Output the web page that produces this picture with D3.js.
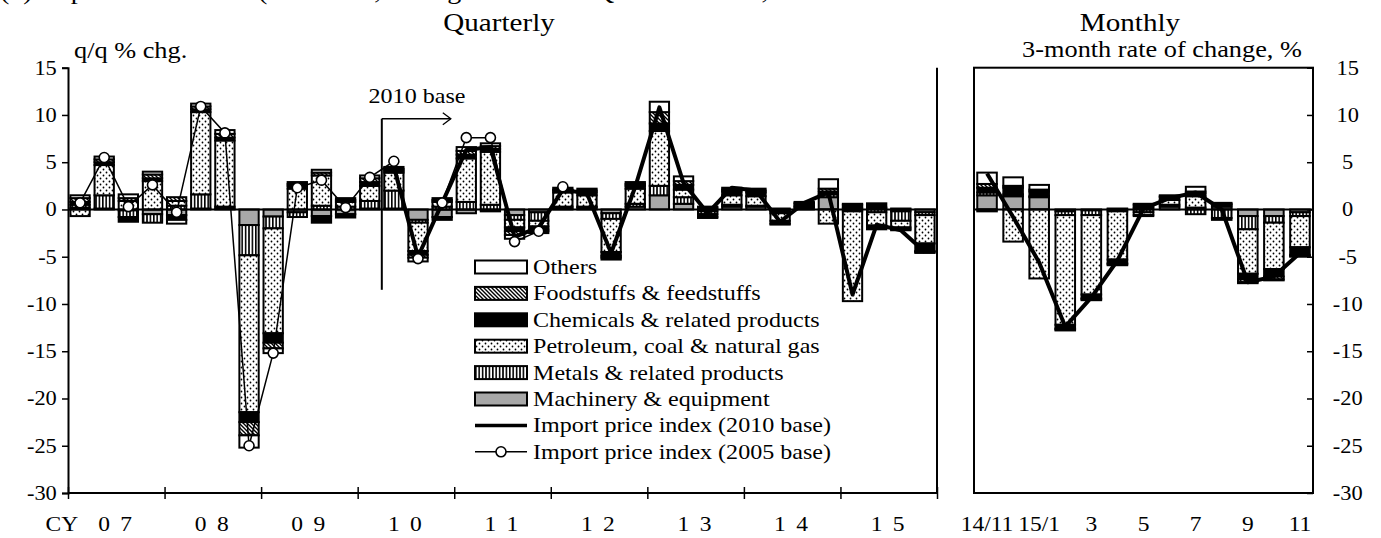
<!DOCTYPE html>
<html><head><meta charset="utf-8">
<script src="https://cdn.jsdelivr.net/npm/d3@7"></script>
<style>html,body{margin:0;padding:0;background:#fff;} svg{display:block;}</style>
</head><body>
<script>
// ---------- DATA ----------
const quarters = ["07Q1","07Q2","07Q3","07Q4","08Q1","08Q2","08Q3","08Q4","09Q1","09Q2","09Q3","09Q4",
  "10Q1","10Q2","10Q3","10Q4","11Q1","11Q2","11Q3","11Q4","12Q1","12Q2","12Q3","12Q4",
  "13Q1","13Q2","13Q3","13Q4","14Q1","14Q2","14Q3","14Q4","15Q1","15Q2","15Q3","15Q4"];
const yearLabels = ["0 7","0 8","0 9","1 0","1 1","1 2","1 3","1 4","1 5"];
const months = ["14/11","14/12","15/1","15/2","15/3","15/4","15/5","15/6","15/7","15/8","15/9","15/10","15/11"];
const monthLabels = ["14/11","","15/1","","3","","5","","7","","9","","11"];
const yTicks = [15,10,5,0,-5,-10,-15,-20,-25,-30];

// Quarterly contributions (q/q % chg.)
const machQ   = [0.2,0.1,-0.1,-0.5,-0.6,0.1,0.1,-1.65,-0.75,-0.3,-0.7,-0.5,0.1,0.1,-1.1,-0.8,-0.4,-0.2,-0.6,-0.3,0.1,0.2,-0.4,0.3,1.5,0.6,-0.2,0.3,0.3,-0.2,0.2,1.3,0.2,0.2,-0.2,-0.3];
const metalsQ = [0.3,1.4,-0.7,-0.9,0.4,1.5,0.2,-3.2,-1.25,-0.5,0.4,0.3,0.8,1.9,-0.3,0.3,0.8,0.5,-0.5,-0.9,0.2,0.1,-0.6,0.3,1.0,0.7,-0.3,0.2,0.1,-0.2,0.1,0.3,-0.2,-0.3,-1.0,-0.3];
const petroQ  = [-0.7,3.2,0.9,3.0,0.5,8.7,7.0,-16.6,-11.1,2.2,3.2,0.5,1.6,1.9,-3.0,0.5,4.6,5.6,-0.8,-0.6,1.5,1.2,-3.5,1.6,5.8,0.8,0.2,1.0,1.0,-0.8,0.1,-1.5,-9.5,-1.4,-0.7,-3.0];
const chemQ   = [0.3,0.3,-0.5,0.3,-0.5,0.3,0.3,-1.05,-1.0,0.3,-0.7,-0.35,0.4,0.2,-0.4,-0.3,0.4,0.3,-0.4,-0.3,0.2,0.3,-0.4,0.3,0.8,0.5,-0.3,0.4,0.4,-0.3,0.2,0.3,0.3,0.45,-0.2,-0.8];
const foodQ   = [0.4,0.3,0.3,0.4,0.4,0.3,0.4,-1.4,-0.6,0.2,0.3,0.2,0.4,0.2,-0.3,0.2,0.4,0.3,-0.4,-0.2,0.1,0.2,-0.2,0.2,1.2,0.4,0.1,0.2,0.2,-0.1,0.1,0.3,0.1,-0.2,-0.1,-0.1];
const othersQ = [0.3,0.3,0.4,0.3,-0.4,0.3,0.4,-1.3,-0.5,0.2,0.3,0.2,0.3,0.2,-0.4,0.2,0.4,0.3,-0.4,-0.2,0.2,0.2,-0.2,0.2,1.1,0.5,-0.1,0.2,0.2,0.1,0.1,1.0,0.0,-0.2,0.1,-0.1];
const import2005Q = [0.7,5.5,0.3,2.6,-0.3,10.9,8.1,-25.0,-15.2,2.3,3.1,0.2,3.4,5.1,-5.2,0.7,7.6,7.6,-3.4,-2.3,2.4,
  null,null,null,null,null,null,null,null,null,null,null,null,null,null,null];
const import2010Q = [null,null,null,null,null,null,null,null,null,null,null,null,null,
  4.5,-5.0,0.7,6.3,6.6,-2.9,-1.9,2.1,1.7,-4.6,2.4,10.8,2.8,-0.4,2.3,2.0,-1.3,0.7,1.8,-9.0,-1.6,-2.2,-4.5];

// Monthly contributions (3-month rate of change, %)
const machM   = [1.5,1.4,1.3,-0.2,-0.1,0.1,0.2,0.3,0.2,0.3,-0.7,-0.7,-0.3];
const metalsM = [0.3,0.2,0.1,-0.4,-0.5,-0.2,-0.3,0.2,-0.5,-0.9,-1.4,-0.7,-0.4];
const petroM  = [-0.2,-3.4,-7.3,-11.6,-8.4,-5.1,-0.3,0.5,1.2,-0.2,-4.7,-4.9,-3.3];
const chemM   = [0.5,0.7,0.5,-0.4,-0.4,-0.4,0.3,0.3,0.3,0.2,-0.6,-0.8,-0.8];
const foodM   = [0.4,0.2,0.2,-0.1,-0.1,-0.1,0.1,0.1,0.2,0.1,-0.3,-0.3,-0.1];
const othersM = [1.2,0.9,0.5,-0.1,-0.1,-0.1,-0.1,0.1,0.5,0.1,-0.1,-0.1,-0.1];
const import2010M = [3.8,-0.8,-5.6,-12.4,-9.3,-5.4,0.1,1.2,1.8,0.0,-7.7,-7.1,-4.6];

const keys = ["mach","metals","petro","chem","food","others"];
const legendItems = [
  {key:"others", label:"Others"},
  {key:"food", label:"Foodstuffs & feedstuffs"},
  {key:"chem", label:"Chemicals & related products"},
  {key:"petro", label:"Petroleum, coal & natural gas"},
  {key:"metals", label:"Metals & related products"},
  {key:"mach", label:"Machinery & equipment"},
  {key:"l2010", label:"Import price index (2010 base)"},
  {key:"l2005", label:"Import price index (2005 base)"}
];

// ---------- SETUP ----------
const W = 1381, H = 538;
const FONT = "'Liberation Serif','Times New Roman',serif";
const SX = 1.12;
const svg = d3.select("body").append("svg").attr("width", W).attr("height", H)
  .style("font-family", FONT);

const defs = svg.append("defs");
const pd = defs.append("pattern").attr("id","pDots").attr("patternUnits","userSpaceOnUse").attr("width",6).attr("height",6);
pd.append("rect").attr("width",6).attr("height",6).attr("fill","#fff");
pd.append("circle").attr("cx",1.5).attr("cy",1.5).attr("r",0.9).attr("fill","#000");
pd.append("circle").attr("cx",4.5).attr("cy",4.5).attr("r",0.9).attr("fill","#000");
const ps = defs.append("pattern").attr("id","pStripes").attr("patternUnits","userSpaceOnUse").attr("width",3.4).attr("height",4);
ps.append("rect").attr("width",3.4).attr("height",4).attr("fill","#fff");
ps.append("rect").attr("width",1.6).attr("height",4).attr("fill","#000");
const ph = defs.append("pattern").attr("id","pHatch").attr("patternUnits","userSpaceOnUse").attr("width",4).attr("height",4);
ph.append("rect").attr("width",4).attr("height",4).attr("fill","#fff");
ph.append("path").attr("d","M-1,-1 L5,5 M-1,3 L1,5 M3,-1 L5,1").attr("stroke","#000").attr("stroke-width",1.4);

const fills = {mach:"#a8a8a8", metals:"url(#pStripes)", petro:"url(#pDots)", chem:"#000", food:"url(#pHatch)", others:"#fff"};

const y = d3.scaleLinear().domain([-30,15]).range([493,67.7]);
const xq = d3.scaleBand().domain(quarters).range([68,937]).paddingInner(0.2).paddingOuter(0.1);
const xm = d3.scaleBand().domain(months).range([974,1313]).paddingInner(0.25).paddingOuter(0.125);

function txt(g, x, yy, s, size, anchor) {
  return g.append("text").attr("transform", `translate(${x},${yy}) scale(${SX},1)`)
    .attr("text-anchor", anchor || "start").attr("font-size", size).attr("fill","#000").text(s);
}

// title (cut at top edge, as in the reference)
txt(svg, 0, -1.5, "(2) Import Price Index (Yen basis, Changes from the Quarter Earlier, Three Months Earlier", 25, "start");

// headings
txt(svg, 499, 31, "Quarterly", 26, "middle");
txt(svg, 1130, 31, "Monthly", 26, "middle");
txt(svg, 74, 58, "q/q % chg.", 23.5, "start");
txt(svg, 1162, 57, "3-month rate of change, %", 23.5, "middle");

// ---------- BARS ----------
function drawBars(g, cats, x, arrs) {
  const rows = cats.map((c,i) => ({cat:c, mach:arrs.mach[i], metals:arrs.metals[i], petro:arrs.petro[i],
    chem:arrs.chem[i], food:arrs.food[i], others:arrs.others[i]}));
  const series = d3.stack().keys(keys).offset(d3.stackOffsetDiverging)(rows);
  g.selectAll("g.s").data(series).join("g").attr("class","s").attr("fill", d => fills[d.key])
    .selectAll("rect").data(d => d.filter(p => Math.abs(p[1]-p[0]) > 1e-9)).join("rect")
    .attr("x", d => x(d.data.cat)).attr("width", x.bandwidth())
    .attr("y", d => y(Math.max(d[0],d[1])))
    .attr("height", d => Math.abs(y(d[0]) - y(d[1])))
    .attr("stroke","#000").attr("stroke-width",2);
}
const gBarsQ = svg.append("g");
drawBars(gBarsQ, quarters, xq, {mach:machQ, metals:metalsQ, petro:petroQ, chem:chemQ, food:foodQ, others:othersQ});
const gBarsM = svg.append("g");
drawBars(gBarsM, months, xm, {mach:machM, metals:metalsM, petro:petroM, chem:chemM, food:foodM, others:othersM});

// zero lines
svg.append("line").attr("x1",68).attr("x2",937).attr("y1",y(0)).attr("y2",y(0)).attr("stroke","#000").attr("stroke-width",2);
svg.append("line").attr("x1",974).attr("x2",1313).attr("y1",y(0)).attr("y2",y(0)).attr("stroke","#000").attr("stroke-width",2);

// ---------- AXES ----------
const fmt = d => String(d);
const axL = svg.append("g").attr("transform","translate(68,0)")
  .call(d3.axisLeft(y).tickValues(yTicks).tickSize(6).tickPadding(4).tickFormat(fmt));
axL.select(".domain").attr("stroke-width",2);
axL.selectAll(".tick line").attr("stroke-width",1.5);
axL.selectAll("text").attr("font-size",20).attr("font-family",FONT).attr("fill","#000")
  .attr("transform",`scale(${SX},1)`);
svg.append("line").attr("x1",937).attr("x2",937).attr("y1",y(15)).attr("y2",y(-30)).attr("stroke","#000").attr("stroke-width",2);
const yearIdx = d3.range(0, 37, 4);
const xb = d3.scaleLinear().domain([0,36]).range([xq.range()[0], xq.range()[1]]);
const axB = svg.append("g").attr("transform",`translate(0,${y(-30)-6})`)
  .call(d3.axisBottom(xb).tickValues(yearIdx).tickSize(12).tickFormat(""));
axB.select(".domain").remove();
axB.selectAll(".tick line").attr("stroke-width",1.5);
svg.append("line").attr("x1",68).attr("x2",937).attr("y1",y(-30)).attr("y2",y(-30)).attr("stroke","#000").attr("stroke-width",2);
yearLabels.forEach((lab,k) => {
  const cx = xb(k*4 + 2);
  txt(svg, cx, 531, lab, 21, "middle").attr("letter-spacing", 2);
  if (k === 0) txt(svg, cx - 38, 531, "CY", 21, "end");
});

// right panel box
svg.append("rect").attr("x",974).attr("y",y(15)).attr("width",1313-974).attr("height",y(-30)-y(15))
  .attr("fill","none").attr("stroke","#000").attr("stroke-width",2);
const axR = svg.append("g").attr("transform","translate(1313,0)")
  .call(d3.axisRight(y).tickValues(yTicks).tickSize(-6).tickPadding(31).tickFormat(fmt));
axR.select(".domain").remove();
axR.selectAll(".tick line").attr("stroke-width",1.5);
axR.selectAll("text").attr("font-size",20).attr("font-family",FONT).attr("fill","#000")
  .attr("text-anchor","middle").attr("transform",`scale(${SX},1)`);
months.forEach((m,i) => {
  if (monthLabels[i]) txt(svg, xm(m) + xm.bandwidth()/2, 531, monthLabels[i], 21, "middle");
});

// ---------- LINES ----------
const lineQ = d3.line().defined(d => d.v != null).x(d => xq(d.cat) + xq.bandwidth()/2).y(d => y(d.v));
const d2005 = quarters.map((c,i) => ({cat:c, v:import2005Q[i]}));
const d2010 = quarters.map((c,i) => ({cat:c, v:import2010Q[i]}));
svg.append("path").datum(d2005).attr("d", lineQ).attr("fill","none").attr("stroke","#000").attr("stroke-width",1.5);
svg.append("path").datum(d2010).attr("d", lineQ).attr("fill","none").attr("stroke","#000").attr("stroke-width",4).attr("stroke-linejoin","round");
svg.append("g").selectAll("circle").data(d2005.filter(d => d.v != null)).join("circle")
  .attr("cx", d => xq(d.cat) + xq.bandwidth()/2).attr("cy", d => y(d.v)).attr("r",5)
  .attr("fill","#fff").attr("stroke","#000").attr("stroke-width",1.6);
const lineM = d3.line().x(d => xm(d.cat) + xm.bandwidth()/2).y(d => y(d.v));
svg.append("path").datum(months.map((c,i) => ({cat:c, v:import2010M[i]}))).attr("d", lineM)
  .attr("fill","none").attr("stroke","#000").attr("stroke-width",4).attr("stroke-linejoin","round");

// ---------- 2010 base annotation ----------
const xBase = xq("10Q2") - xq.step()*xq.paddingInner()/2;
svg.append("line").attr("x1",xBase).attr("x2",xBase).attr("y1",y(9.6)).attr("y2",y(-8.5)).attr("stroke","#000").attr("stroke-width",2);
svg.append("line").attr("x1",xBase).attr("x2",xBase+69).attr("y1",y(9.6)).attr("y2",y(9.6)).attr("stroke","#000").attr("stroke-width",1.3);
svg.append("path").attr("d",`M${xBase+61},${y(9.6)-6} L${xBase+69},${y(9.6)} L${xBase+61},${y(9.6)+6}`)
  .attr("fill","none").attr("stroke","#000").attr("stroke-width",1.3);
txt(svg, 417, 103, "2010 base", 21.5, "middle");

// ---------- LEGEND ----------
const lg = svg.append("g").attr("transform","translate(475,267)");
legendItems.forEach((it,k) => {
  const gy = k*26.4;
  if (fills[it.key]) {
    lg.append("rect").attr("x",0).attr("y",gy-6.5).attr("width",52).attr("height",13)
      .attr("fill",fills[it.key]).attr("stroke","#000").attr("stroke-width",2);
  } else if (it.key === "l2010") {
    lg.append("line").attr("x1",0).attr("x2",52).attr("y1",gy).attr("y2",gy).attr("stroke","#000").attr("stroke-width",3.5);
  } else {
    lg.append("line").attr("x1",0).attr("x2",52).attr("y1",gy).attr("y2",gy).attr("stroke","#000").attr("stroke-width",1.6);
    lg.append("circle").attr("cx",26).attr("cy",gy).attr("r",5).attr("fill","#fff").attr("stroke","#000").attr("stroke-width",1.6);
  }
  txt(lg, 58, gy + 7, it.label, 21.5, "start");
});
</script></body></html>
